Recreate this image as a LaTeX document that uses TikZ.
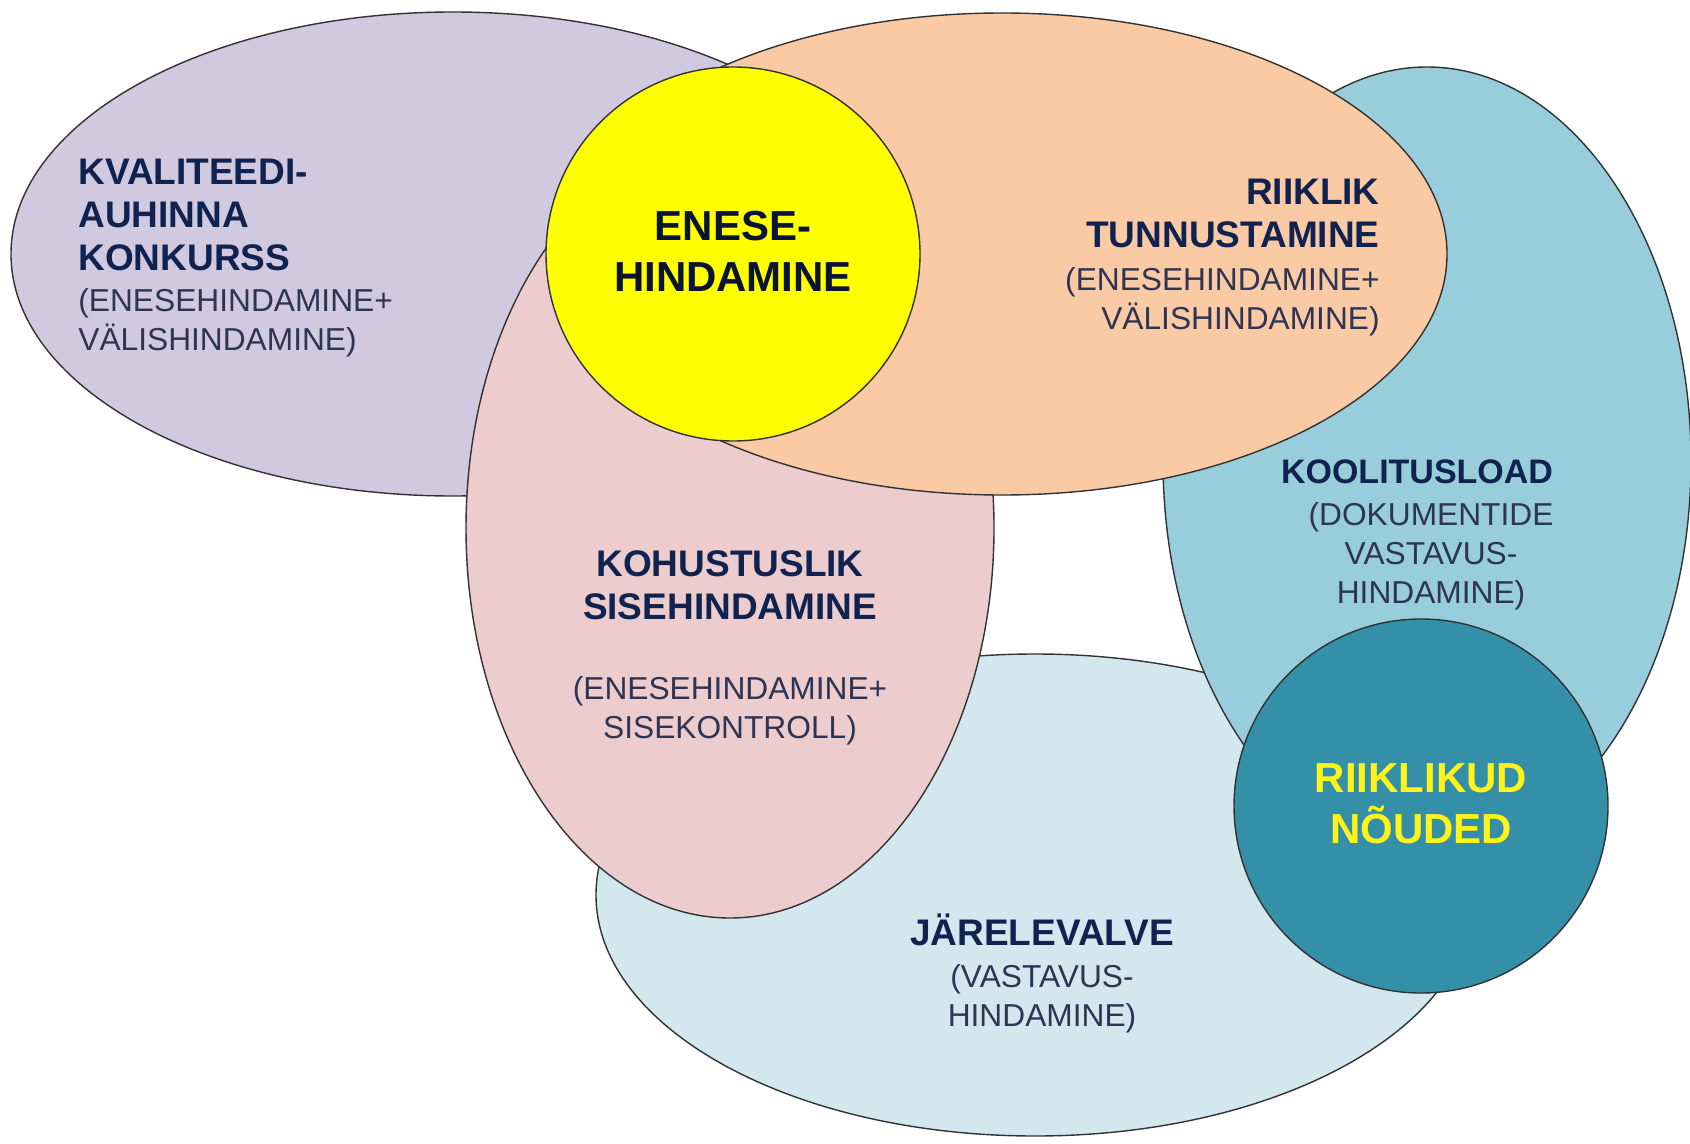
\documentclass[tikz,border=0pt]{standalone}
\usepackage{fontspec}
\setmainfont{Liberation Sans}
\usepackage{tikz}

\definecolor{lilac}{RGB}{208,201,223}
\definecolor{peach}{RGB}{250,202,164}
\definecolor{rose}{RGB}{236,204,204}
\definecolor{icy}{RGB}{210,232,238}
\definecolor{sky}{RGB}{152,206,219}
\definecolor{petrol}{RGB}{52,144,168}
\definecolor{lemon}{RGB}{255,255,0}
\definecolor{navy}{RGB}{16,34,80}
\definecolor{slate}{RGB}{46,52,84}
\definecolor{rim}{RGB}{50,50,50}

\tikzset{
  blob/.style={draw=rim, line width=0.7pt},
  headtxt/.style={font=\fontsize{18.5}{21.5}\selectfont\bfseries, text=navy, inner sep=0pt},
  subtxt/.style={font=\fontsize{15.85}{19.5}\selectfont, text=slate, inner sep=0pt},
  bigtxt/.style={font=\fontsize{21}{25.5}\selectfont\bfseries, inner sep=0pt, align=center}
}

\begin{document}
\begin{tikzpicture}[x=0.5pt,y=-0.5pt]
    \useasboundingbox (0,0) rectangle (1690,1144);
    \clip (0,0) rectangle (1690,1144);
    \fill[white] (0,0) rectangle (1690,1144);

    % the fields, back to front
    \draw[blob,fill=lilac] (453,254) ellipse [x radius=442, y radius=242];
    \draw[blob,fill=icy] (1035,895) ellipse [x radius=439, y radius=241];
    \draw[blob,fill=rose] (730,528) ellipse [x radius=264, y radius=390];
    \draw[blob,fill=sky] (1427,461) ellipse [x radius=264, y radius=394];
    \draw[blob,fill=peach] (1002,254) ellipse [x radius=445, y radius=241];
    \draw[blob,fill=lemon] (733,254) circle [radius=187];
    \draw[blob,fill=petrol] (1421,806) circle [radius=187];

    % labels
    \node[headtxt,align=left,anchor=north west] (kvalhead) at (78,159) {KVALITEEDI-\\AUHINNA\\KONKURSS};
    \node[subtxt,align=left,anchor=north west] (kvalsub) at (78,288) {(ENESEHINDAMINE+\\VÄLISHINDAMINE)};

    \node[bigtxt,text=navy!60!black] (enese) at (733,251) {ENESE-\\HINDAMINE};

    \node[headtxt,align=right,anchor=north east] (riikhead) at (1380,179) {RIIKLIK\\TUNNUSTAMINE};
    \node[subtxt,align=right,anchor=north east] (riiksub) at (1380,267) {(ENESEHINDAMINE+\\VÄLISHINDAMINE)};

    \node[headtxt,align=center,anchor=north] (kohhead) at (730,550) {KOHUSTUSLIK\\SISEHINDAMINE};
    \node[subtxt,align=center,anchor=north] (kohsub) at (730,676) {(ENESEHINDAMINE+\\SISEKONTROLL)};

    \node[headtxt,font=\fontsize{17}{20}\selectfont\bfseries,anchor=north] (koolhead) at (1417,459) {KOOLITUSLOAD};
    \node[subtxt,align=center,anchor=north] (koolsub) at (1431,502) {(DOKUMENTIDE\\VASTAVUS-\\HINDAMINE)};

    \node[headtxt,anchor=base] (jarhead) at (1042,945) {JÄRELEVALVE};
    \node[subtxt,align=center,anchor=north] (jarsub) at (1042,964) {(VASTAVUS-\\HINDAMINE)};

    \node[bigtxt,text=yellow!90!white,anchor=north] (noud) at (1421,763) {RIIKLIKUD\\NÕUDED};
\end{tikzpicture}
\end{document}
